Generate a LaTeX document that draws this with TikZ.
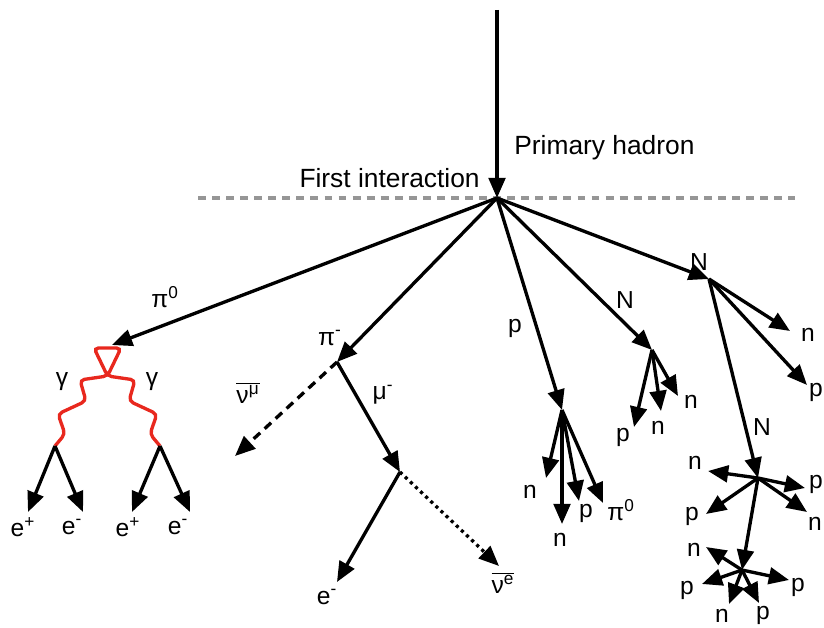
\documentclass[tikz,border=0pt]{standalone}
\usepackage{fontspec}
\setmainfont{Liberation Sans}
\usetikzlibrary{arrows.meta}
\definecolor{photon}{RGB}{232,40,30}
\definecolor{sepgray}{RGB}{150,150,150}
\begin{document}
\begin{tikzpicture}[x=0.02cm,y=-0.02cm,
  arr/.style={line width=1.9pt,-{Triangle[length=11.5pt,width=9.5pt]}},
  dasharr/.style={arr,dash pattern=on 5pt off 3.5pt},
  dotarr/.style={arr,dash pattern=on 1.8pt off 2.2pt},
  lbl/.style={font=\fontsize{14}{16}\selectfont, inner sep=0pt},
  big/.style={font=\fontsize{15}{18}\selectfont, inner sep=0pt},
  photonline/.style={draw=photon,line width=1.9pt,rounded corners=2.5pt}]
\useasboundingbox (0,0) rectangle (824,628);
% coordinates
\coordinate (top) at (497,10);
\coordinate (v0) at (497,198);
\coordinate (sepL) at (198,198);
\coordinate (sepR) at (795,198);
\coordinate (pi0tip) at (112,345);
\coordinate (gl) at (55,446);
\coordinate (gr) at (160,446);
\coordinate (e1) at (28,512);
\coordinate (e2) at (83,512);
\coordinate (e3) at (132,512);
\coordinate (e4) at (190,512);
\coordinate (vpi) at (337,362);
\coordinate (numu) at (235,456);
\coordinate (vmu) at (400,472);
\coordinate (emin) at (337,582);
\coordinate (nue) at (499,566);
\coordinate (vp) at (562,410);
\coordinate (pn1) at (546,478);
\coordinate (pn2) at (562,524);
\coordinate (pp) at (579,501);
\coordinate (ppi) at (603,503);
\coordinate (vN1) at (652,350);
\coordinate (N1p) at (634,427);
\coordinate (N1n1) at (661,411);
\coordinate (N1n2) at (678,396);
\coordinate (vN2) at (709,279);
\coordinate (N2n) at (790,331);
\coordinate (N2p) at (807,385);
\coordinate (vN3) at (758,478);
\coordinate (N3n) at (708,471);
\coordinate (N3p) at (805,488);
\coordinate (N3n2) at (807,512);
\coordinate (N3p2) at (706,514);
\coordinate (vN4) at (742,570);
\coordinate (N4n) at (706,547);
\coordinate (N4p) at (702,584);
\coordinate (N4n2) at (729,604);
\coordinate (N4p2) at (759,603);
\coordinate (N4p3) at (789,580);

% separator
\draw[sepgray,line width=1.9pt,dash pattern=on 4.5pt off 3.5pt] (sepL) -- (sepR);
% primary
\draw[arr] (top) -- (v0);
% first generation
\draw[arr] (v0) -- (pi0tip);
\draw[arr] (v0) -- (vpi);
\draw[arr] (v0) -- (vp);
\draw[arr] (v0) -- (vN1);
\draw[arr] (v0) -- (vN2);
% photons
\path[photonline] (gl) -- (65,434) -- (58,414) -- (86,401) -- (80,380) -- (107.5,376) -- (121,348) -- (94,348) -- (107.5,376) -- (135,380) -- (129,401) -- (157,414) -- (150,434) -- (gr);
\draw[arr] (gl) -- (e1);
\draw[arr] (gl) -- (e2);
\draw[arr] (gr) -- (e3);
\draw[arr] (gr) -- (e4);
% pion decay
\draw[dasharr] (vpi) -- (numu);
\draw[arr] (vpi) -- (vmu);
\draw[arr] (vmu) -- (emin);
\draw[dotarr] (vmu) -- (nue);
% proton
\draw[arr] (vp) -- (pn1);
\draw[arr] (vp) -- (pn2);
\draw[arr] (vp) -- (pp);
\draw[arr] (vp) -- (ppi);
% N1
\draw[arr] (vN1) -- (N1p);
\draw[arr] (vN1) -- (N1n1);
\draw[arr] (vN1) -- (N1n2);
% N2
\draw[arr] (vN2) -- (N2n);
\draw[arr] (vN2) -- (N2p);
\draw[arr] (vN2) -- (vN3);
% N3
\draw[arr] (vN3) -- (N3n);
\draw[arr] (vN3) -- (N3p);
\draw[arr] (vN3) -- (N3n2);
\draw[arr] (vN3) -- (N3p2);
\draw[arr] (vN3) -- (vN4);
% N4
\draw[arr] (vN4) -- (N4n);
\draw[arr] (vN4) -- (N4p);
\draw[arr] (vN4) -- (N4n2);
\draw[arr] (vN4) -- (N4p2);
\draw[arr] (vN4) -- (N4p3);

% labels
\node[big,anchor=base east] (tfirst) at (480,188) {First interaction};
\node[big,anchor=base west] (tprim) at (514,155) {Primary hadron};
\node[lbl] (lpi0) at (165,297) {π\textsuperscript{0}};
\node[lbl] (lg1) at (62,382) {γ};
\node[lbl] (lg2) at (152,382) {γ};
\node[lbl] (le1) at (23,527) {e\textsuperscript{+}};
\node[lbl] (le2) at (72,527) {e\textsuperscript{-}};
\node[lbl] (le3) at (128,527) {e\textsuperscript{+}};
\node[lbl] (le4) at (178,527) {e\textsuperscript{-}};
\node[lbl] (lpim) at (330,338) {π\textsuperscript{-}};
\node[lbl] (lnumu) at (248,393) {$\overline{\hbox{ν\textsuperscript{μ}}}$};
\node[lbl] (lmu) at (383,395) {μ\textsuperscript{-}};
\node[lbl] (lem) at (327,597) {e\textsuperscript{-}};
\node[lbl] (lnue) at (503,583) {$\overline{\hbox{ν\textsuperscript{e}}}$};
\node[lbl] (lp) at (515,328) {p};
\node[lbl] (lN1) at (625,300) {N};
\node[lbl] (lpn1) at (530,492) {n};
\node[lbl] (lpn2) at (560,540) {n};
\node[lbl] (lpp) at (586,513) {p};
\node[lbl] (lppi) at (621,510) {π\textsuperscript{0}};
\node[lbl] (lN1p) at (623,437) {p};
\node[lbl] (lN1n1) at (658,428) {n};
\node[lbl] (lN1n2) at (691,402) {n};
\node[lbl] (lN2) at (699,262) {N};
\node[lbl] (lN2n) at (808,335) {n};
\node[lbl] (lN2p) at (816,392) {p};
\node[lbl] (lN3) at (762,427) {N};
\node[lbl] (lN3n) at (695,463) {n};
\node[lbl] (lN3p) at (816,484) {p};
\node[lbl] (lN3p2) at (692,516) {p};
\node[lbl] (lN3n2) at (815,524) {n};
\node[lbl] (lN4n) at (694,550) {n};
\node[lbl] (lN4p) at (687,590) {p};
\node[lbl] (lN4n2) at (722,616) {n};
\node[lbl] (lN4p2) at (763,615) {p};
\node[lbl] (lN4p3) at (798,587) {p};
\end{tikzpicture}
\end{document}
